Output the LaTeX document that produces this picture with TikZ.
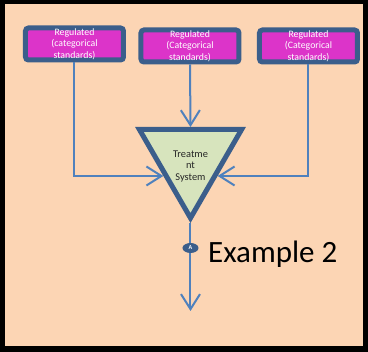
\documentclass[tikz,border=0pt]{standalone}
\usepackage{fontspec}
\setmainfont{Carlito}
\usetikzlibrary{arrows.meta,shapes.geometric}
\definecolor{peach}{HTML}{FCD5B4}
\definecolor{regfill}{HTML}{DC34C9}
\definecolor{frameblue}{HTML}{3B5E8B}
\definecolor{lineblue}{HTML}{4F81BD}
\definecolor{trifill}{HTML}{D7E4BD}
\definecolor{textdark}{HTML}{262626}
\tikzset{
  regbox/.style={rectangle, rounded corners=3pt, draw=frameblue, line width=5pt,
    fill=regfill, minimum width=98pt, minimum height=32pt, inner sep=0pt,
    text=white, align=center, font=\fontsize{9.8}{11.5}\selectfont},
  conn/.style={draw=lineblue, line width=2pt,
    -{Straight Barb[length=15pt,width=19pt,line width=2pt]}},
}
\begin{document}
\begin{tikzpicture}[x=1pt,y=-1pt]
  % outer frame
  \fill[black] (0,0) rectangle (368,352);
  \fill[peach] (5,4) rectangle (363,346);
  \useasboundingbox (0,0) rectangle (368,352);

  % regulated sources
  \node[regbox] (box1) at (74.5,44)   {Regulated\\(categorical\\standards)};
  \node[regbox] (box2) at (190,46)    {Regulated\\(Categorical\\standards)};
  \node[regbox] (box3) at (308.5,46)  {Regulated\\(Categorical\\standards)};

  % treatment system (point-down triangle)
  \coordinate (triTL) at (139.4,129.5);
  \coordinate (triTR) at (241.6,129.5);
  \coordinate (triB)  at (190.5,218);
  \draw[draw=frameblue, line width=5pt, line join=miter, miter limit=10,
        fill=trifill] (triTL) -- (triTR) -- (triB) -- cycle;
  \node[align=center, text=textdark, font=\fontsize{10.4}{11.7}\selectfont,
        inner sep=0pt] (tritext) at (190.5,166.5) {Treatme\\nt\\System};

  % inflow points on the outer edge of the triangle
  \coordinate (inT) at (190.5,127);
  \coordinate (inL) at (163.3,176);
  \coordinate (inR) at (217.7,176);
  \coordinate (outTop) at (190.5,223);
  \coordinate (outflow) at (190.5,311);

  \draw[conn] (box1.south) |- (inL);
  \draw[conn] (box3.south) |- (inR);
  \draw[conn] (box2.south) -- (inT);
  \draw[conn] (outTop) -- (outflow);

  % sampling point
  \node[ellipse, fill=frameblue, minimum width=16pt, minimum height=10pt,
        inner sep=0pt, text=white, font=\fontsize{6}{6}\selectfont\bfseries]
        (pointA) at (190.5,248) {A};
  \node[anchor=base west, inner sep=0pt, text=black,
        font=\fontsize{31}{36}\selectfont] (ex) at (208,263) {Example 2};
\end{tikzpicture}
\end{document}
